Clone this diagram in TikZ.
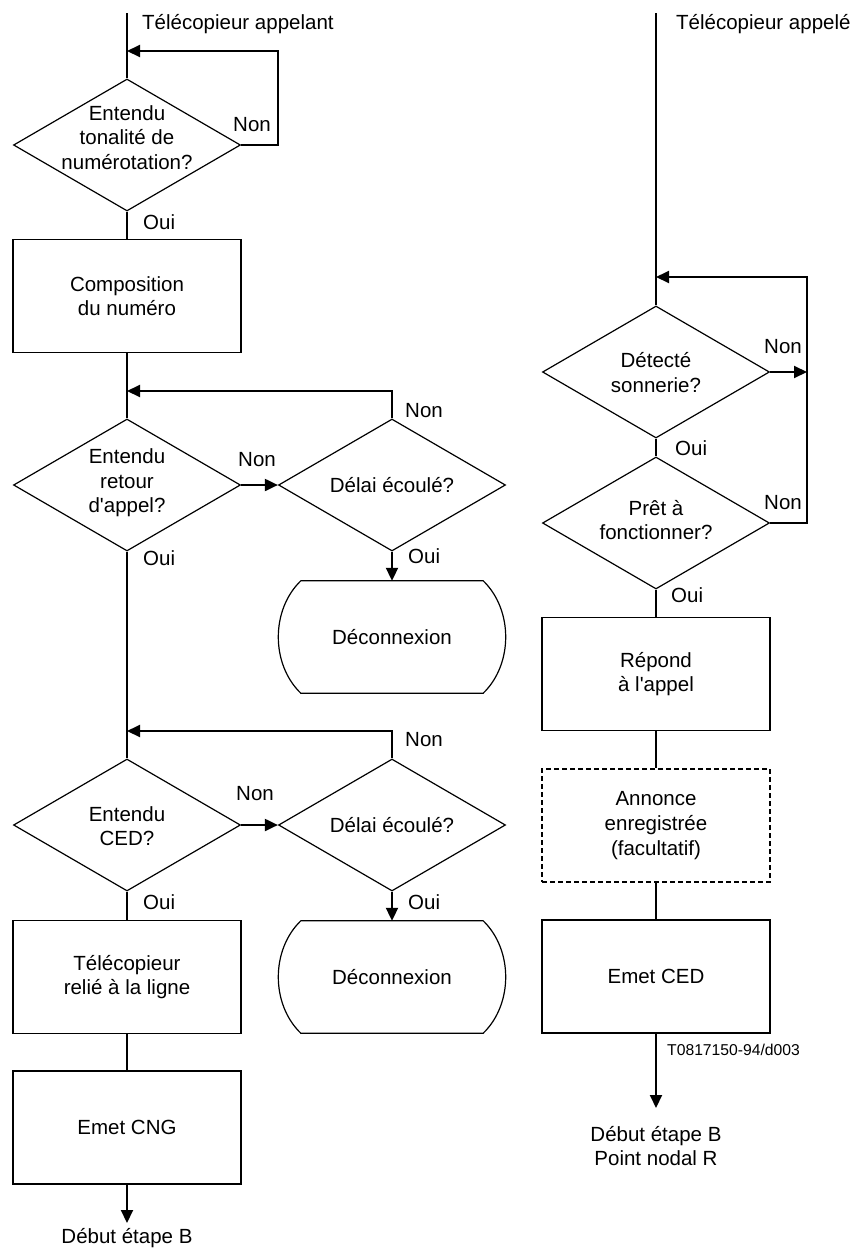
\documentclass[tikz,border=0pt]{standalone}
\usepackage{fontspec}
\setmainfont{Liberation Sans}[Ligatures=TeXOff]
\usetikzlibrary{shapes.geometric,arrows.meta}
\begin{document}
\begin{tikzpicture}[x=1pt,y=-1pt,
  font=\fontsize{20.5}{24.6}\selectfont,
  flow/.style={line width=2pt},
  arr/.style={line width=2pt,-{Triangle[length=13pt,width=12pt]}},
  decision/.style={diamond,draw,line width=1.2pt,minimum width=227pt,minimum height=132pt,inner sep=0pt},
  procbox/.style={rectangle,draw,line width=1.6pt,minimum width=228pt,minimum height=113pt,inner sep=0pt,align=center},
  txt/.style={align=center,inner sep=0pt},
  lbl/.style={anchor=west,inner sep=0pt},
  term/.style={minimum width=228pt,minimum height=112pt,inner sep=0pt},
  termline/.style={line width=1.2pt}
]
\useasboundingbox (0,0) rectangle (856,1250);

% ---------- calling terminal (left column) ----------
\coordinate (s1) at (127,13);
\node[lbl] (hl) at (142,24) {Télécopieur appelant};
\coordinate (j1) at (127,51);
\coordinate (k1) at (278,51);

\node[decision] (d1) at (127,145) {};
\node[txt] (d1t) at (127,137.5) {Entendu\\tonalité de\\numérotation?};

\node[procbox] (b1) at (127,296) {Composition\\du numéro};

\coordinate (j2) at (127,391);
\node[decision] (d2) at (127,485) {};
\node[txt] (d2t) at (127,483) {Entendu\\retour\\d'appel?};
\node[decision] (t1) at (392,485) {};
\node[txt] (t1t) at (392,485) {Délai écoulé?};

\node[term] (x1) at (392,637) {Déconnexion};
\draw[termline] ([xshift=23pt]x1.north west) -- ([xshift=-23pt]x1.north east)
  .. controls ([xshift=7pt,yshift=-29pt]x1.north east) and ([xshift=7pt,yshift=29pt]x1.south east) .. ([xshift=-23pt]x1.south east)
  -- ([xshift=23pt]x1.south west)
  .. controls ([xshift=-7pt,yshift=29pt]x1.south west) and ([xshift=-7pt,yshift=-29pt]x1.north west) .. cycle;

\coordinate (j3) at (127,731);
\node[decision] (d4) at (127,825) {};
\node[txt] (d4t) at (127,826) {Entendu\\CED?};
\node[decision] (t2) at (392,825) {};
\node[txt] (t2t) at (392,825) {Délai écoulé?};

\node[term] (x2) at (392,977) {Déconnexion};
\draw[termline] ([xshift=23pt]x2.north west) -- ([xshift=-23pt]x2.north east)
  .. controls ([xshift=7pt,yshift=-29pt]x2.north east) and ([xshift=7pt,yshift=29pt]x2.south east) .. ([xshift=-23pt]x2.south east)
  -- ([xshift=23pt]x2.south west)
  .. controls ([xshift=-7pt,yshift=29pt]x2.south west) and ([xshift=-7pt,yshift=-29pt]x2.north west) .. cycle;

\node[procbox] (b2) at (127,977) {Télécopieur\\relié à la ligne};
\node[procbox] (b3) at (127,1127.5) {Emet CNG};
\coordinate (e1) at (127,1223);
\node[txt] (f1) at (127,1238) {Début étape B};

% labels, left column
\node[lbl] (n1) at (233,125) {Non};
\node[lbl] (o1) at (143,222) {Oui};
\node[lbl] (n2) at (238,460) {Non};
\node[lbl] (n3) at (405,411) {Non};
\node[lbl] (o2) at (143,558) {Oui};
\node[lbl] (o3) at (408,556) {Oui};
\node[lbl] (n4) at (236,794) {Non};
\node[lbl] (n5) at (405,740) {Non};
\node[lbl] (o4) at (143,902) {Oui};
\node[lbl] (o5) at (408,902) {Oui};

% connectors, left column
\draw[flow] (s1) -- (d1.north);
\draw[arr] (d1.east) -| (k1) -- (j1);
\draw[flow] (d1.south) -- (b1.north);
\draw[flow] (b1.south) -- (d2.north);
\draw[arr] (d2.east) -- (t1.west);
\draw[arr] (t1.north) |- (j2);
\draw[arr] (t1.south) -- (x1.north);
\draw[flow] (d2.south) -- (d4.north);
\draw[arr] (d4.east) -- (t2.west);
\draw[arr] (t2.north) |- (j3);
\draw[arr] (t2.south) -- (x2.north);
\draw[flow] (d4.south) -- (b2.north);
\draw[flow] (b2.south) -- (b3.north);
\draw[arr] (b3.south) -- (e1);

% ---------- called terminal (right column) ----------
\coordinate (s2) at (656,13);
\node[lbl] (hr) at (676,24) {Télécopieur appelé};
\coordinate (j4) at (656,277);
\coordinate (k2) at (807,277);
\coordinate (r1) at (807,372);

\node[decision] (d5) at (656,372) {};
\node[txt] (d5t) at (656,372.5) {Détecté\\sonnerie?};
\node[decision] (d6) at (656,523) {};
\node[txt] (d6t) at (656,520) {Prêt à\\fonctionner?};

\node[procbox] (b4) at (656,674) {Répond\\à l'appel};
\node[procbox,dash pattern=on 5pt off 3pt] (b5) at (656,825.5) {Annonce\\enregistrée\\(facultatif)};
\node[procbox] (b6) at (656,976.5) {Emet CED};
\coordinate (e2) at (656,1108);
\node[lbl,font=\fontsize{15.7}{19}\selectfont] (code) at (667,1050) {T0817150-94/d003};
\node[txt] (f2) at (656,1146) {Début étape B\\Point nodal R};

% labels, right column
\node[lbl] (n6) at (764,347) {Non};
\node[lbl] (o6) at (675,448) {Oui};
\node[lbl] (n7) at (764,503) {Non};
\node[lbl] (o7) at (671,595) {Oui};

% connectors, right column
\draw[flow] (s2) -- (d5.north);
\draw[arr] (d5.east) -- (r1);
\draw[arr] (d6.east) -| (k2) -- (j4);
\draw[flow] (d5.south) -- (d6.north);
\draw[flow] (d6.south) -- (b4.north);
\draw[flow] (b4.south) -- (b5.north);
\draw[flow] (b5.south) -- (b6.north);
\draw[arr] (b6.south) -- (e2);
\end{tikzpicture}
\end{document}
